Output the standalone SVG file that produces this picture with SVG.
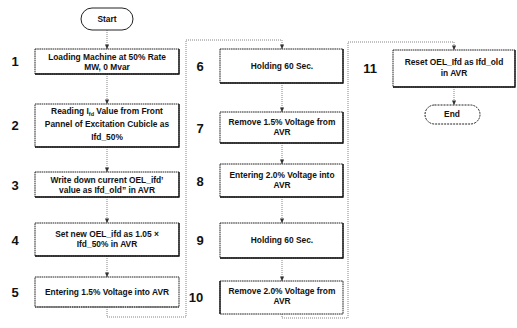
<svg xmlns="http://www.w3.org/2000/svg" width="517" height="328" viewBox="0 0 517 328">
<defs>
<marker id="ah" viewBox="0 0 6 6" refX="5.5" refY="3" markerWidth="5" markerHeight="5" orient="auto" markerUnits="userSpaceOnUse">
<path d="M0,0.5 L6,3 L0,5.5 z" fill="#333"/>
</marker>
<style>
.box{fill:#fff;stroke:#222;stroke-width:1;stroke-dasharray:1.6 0.6}
.sh{fill:none;stroke:#111;stroke-width:1.3}
.term{fill:#fff;stroke:#222;stroke-width:1;stroke-dasharray:2 1}
.t{font-family:"Liberation Sans",Arial,sans-serif;font-size:8.4px;font-weight:bold;fill:#111;text-anchor:middle}
.n{font-family:"Liberation Sans",Arial,sans-serif;font-size:13px;font-weight:bold;fill:#111;text-anchor:middle}
.c{fill:none;stroke:#777;stroke-width:0.9;stroke-dasharray:1 1;marker-end:url(#ah)}
</style>
</defs>
<rect width="517" height="328" fill="#fff"/>

<g id="connectors">
<path class="c" d="M107,30 V49"/>
<path class="c" d="M107,74 V104"/>
<path class="c" d="M107,147 V172"/>
<path class="c" d="M107,197 V223"/>
<path class="c" d="M107,256 V277"/>
<path class="c" d="M107,307 V317 H186 V40 H282 V49"/>
<path class="c" d="M282,83 V112"/>
<path class="c" d="M282,143 V164"/>
<path class="c" d="M282,197 V223"/>
<path class="c" d="M282,258 V281"/>
<path class="c" d="M282,314 V318 H348 V42 H454 V50"/>
<path class="c" d="M454,87 V105"/>
</g>

<g id="start">
<rect class="term" x="81" y="8" width="52" height="22" rx="11" style="stroke-dasharray:none"/>
<text class="t" x="107" y="22">Start</text>
</g>

<g id="step1">
<text class="n" x="15" y="66">1</text>
<rect class="box" x="35" y="49" width="144" height="25"/>
<path class="sh" d="M35,74 H179 V49"/>
<text class="t" x="107" y="60">Loading Machine at 50% Rate</text>
<text class="t" x="107" y="70">MW, 0 Mvar</text>
</g>

<g id="step2">
<text class="n" x="15" y="130">2</text>
<rect class="box" x="35" y="104" width="144" height="43"/>
<path class="sh" d="M35,147 H179 V104"/>
<text class="t" x="107" y="114">Reading I<tspan font-size="5.5" dy="1.5">fd</tspan><tspan dy="-1.5"> Value from Front</tspan></text>
<text class="t" x="107" y="127">Pannel of Excitation Cubicle as</text>
<text class="t" x="107" y="140">Ifd_50%</text>
</g>

<g id="step3">
<text class="n" x="15" y="190">3</text>
<rect class="box" x="35" y="172" width="144" height="25"/>
<path class="sh" d="M35,197 H179 V172"/>
<text class="t" x="107" y="183">Write down current OEL_ifd’</text>
<text class="t" x="107" y="193">value as Ifd_old” in AVR</text>
</g>

<g id="step4">
<text class="n" x="15" y="245">4</text>
<rect class="box" x="35" y="223" width="144" height="33"/>
<path class="sh" d="M35,256 H179 V223"/>
<text class="t" x="107" y="237">Set new OEL_ifd as 1.05 ×</text>
<text class="t" x="107" y="247">Ifd_50% in AVR</text>
</g>

<g id="step5">
<text class="n" x="15" y="297">5</text>
<rect class="box" x="35" y="277" width="144" height="30"/>
<path class="sh" d="M35,307 H179" style="stroke:#555;stroke-dasharray:1.5 0.8"/>
<text class="t" x="107" y="295">Entering 1.5% Voltage into AVR</text>
</g>

<g id="step6">
<text class="n" x="200" y="71">6</text>
<rect class="box" x="220" y="49" width="123" height="34"/>
<path class="sh" d="M220,83 H343 V49"/>
<text class="t" x="282" y="69">Holding 60 Sec.</text>
</g>

<g id="step7">
<text class="n" x="200" y="133">7</text>
<rect class="box" x="220" y="112" width="123" height="31"/>
<path class="sh" d="M220,143 H343 V112"/>
<text class="t" x="282" y="125">Remove 1.5% Voltage from</text>
<text class="t" x="282" y="135">AVR</text>
</g>

<g id="step8">
<text class="n" x="200" y="186">8</text>
<rect class="box" x="220" y="164" width="123" height="33"/>
<path class="sh" d="M220,197 H343 V164"/>
<text class="t" x="282" y="178">Entering 2.0% Voltage into</text>
<text class="t" x="282" y="188">AVR</text>
</g>

<g id="step9">
<text class="n" x="200" y="245">9</text>
<rect class="box" x="220" y="223" width="123" height="35"/>
<path class="sh" d="M220,258 H343 V223"/>
<text class="t" x="282" y="243">Holding 60 Sec.</text>
</g>

<g id="step10">
<text class="n" x="196" y="302">10</text>
<rect class="box" x="220" y="281" width="123" height="33"/>
<path class="sh" d="M220,281 V314" style="stroke-dasharray:none"/>
<text class="t" x="282" y="294">Remove 2.0% Voltage from</text>
<text class="t" x="282" y="304">AVR</text>
</g>

<g id="step11">
<text class="n" x="370" y="73">11</text>
<rect class="box" x="393" y="50" width="122" height="37"/>
<path class="sh" d="M393,87 H515 V50"/>
<text class="t" x="454" y="65">Reset OEL_Ifd as Ifd_old</text>
<text class="t" x="454" y="76">in AVR</text>
</g>

<g id="end">
<rect class="term" x="425" y="105" width="55" height="19" rx="9.5"/>
<text class="t" x="452" y="117">End</text>
</g>
</svg>
